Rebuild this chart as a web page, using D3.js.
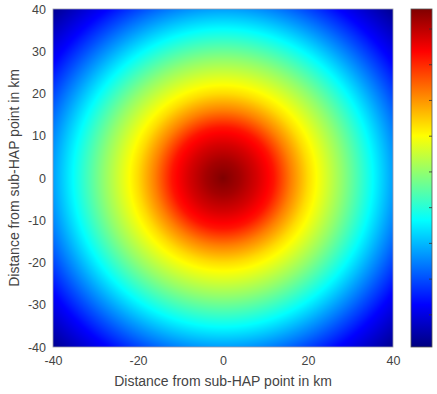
<!DOCTYPE html>
<html>
<head>
<meta charset="utf-8">
<script src="https://cdn.jsdelivr.net/npm/d3@7/dist/d3.min.js"></script>
<style>
  body { margin: 0; background: #fff; }
  text { font-family: Arial, "Liberation Sans", sans-serif; fill: #444; }
</style>
</head>
<body>
<div id="chart"></div>
<script>
// radial profile of the field (radius in km -> value)
const profileRadius = [0, 4, 8, 12, 16, 20, 24, 28, 32, 36, 40, 44, 48, 52, 56.6];
const profileValue = [0.56, 0.23, -0.24, -0.80, -1.80, -2.66, -3.32, -4.0, -4.74, -5.49, -6.25, -6.98, -7.67, -8.19, -8.76];

const xTicks = [-40, -20, 0, 20, 40];
const yTicks = [40, 30, 20, 10, 0, -10, -20, -30, -40];
const barTicks = [0, -1, -2, -3, -4, -5, -6, -7, -8];
const valueDomain = [-8.9, 0.56];

const jetStops = [0, 0.125, 0.375, 0.625, 0.875, 1];
const jetColors = ["#000080", "#0000ff", "#00ffff", "#ffff00", "#ff0000", "#800000"];

const W = 437, H = 394;
const plot = { left: 53, top: 9, right: 393, bottom: 347 };
const bar = { left: 411, right: 432 };

const svg = d3.select("#chart").append("svg").attr("width", W).attr("height", H);

const x = d3.scaleLinear().domain([-40, 40]).range([plot.left, plot.right]);
const y = d3.scaleLinear().domain([-40, 40]).range([plot.bottom, plot.top]);
const profile = d3.scaleLinear().domain(profileRadius).range(profileValue).clamp(true);
const norm = d3.scaleLinear().domain(valueDomain).range([0, 1]).clamp(true);
const jet = d3.scaleLinear().domain(jetStops).range(jetColors).interpolate(d3.interpolateRgb);

// heatmap drawn per pixel into a canvas, then placed in the svg
const pw = plot.right - plot.left, ph = plot.bottom - plot.top;
const canvas = document.createElement("canvas");
canvas.width = pw; canvas.height = ph;
const ctx = canvas.getContext("2d");
const img = ctx.createImageData(pw, ph);
for (let j = 0; j < ph; j++) {
  const yk = y.invert(plot.top + j + 0.5);
  for (let i = 0; i < pw; i++) {
    const xk = x.invert(plot.left + i + 0.5);
    const c = d3.rgb(jet(norm(profile(Math.hypot(xk, yk)))));
    const k = (j * pw + i) * 4;
    img.data[k] = c.r; img.data[k + 1] = c.g; img.data[k + 2] = c.b; img.data[k + 3] = 255;
  }
}
ctx.putImageData(img, 0, 0);
svg.append("image")
  .attr("x", plot.left).attr("y", plot.top)
  .attr("width", pw).attr("height", ph)
  .attr("href", canvas.toDataURL());

svg.append("rect")
  .attr("x", plot.left).attr("y", plot.top)
  .attr("width", pw).attr("height", ph)
  .attr("fill", "none").attr("stroke", "#9a9aaa").attr("stroke-width", 0.8);

// axes (plain hyphen for negatives, like the original)
const fmt = d => String(d);
const xAxis = svg.append("g").attr("transform", `translate(0,${plot.bottom})`)
  .call(d3.axisBottom(x).tickValues(xTicks).tickFormat(fmt).tickSize(0).tickPadding(9));
const yAxis = svg.append("g").attr("transform", `translate(${plot.left},0)`)
  .call(d3.axisLeft(y).tickValues(yTicks).tickFormat(fmt).tickSize(0).tickPadding(7));
[xAxis, yAxis].forEach(g => {
  g.select(".domain").remove();
  g.selectAll("text").style("font-size", "12.5px").attr("fill", "#444");
});

svg.append("text")
  .attr("x", (plot.left + plot.right) / 2).attr("y", 386)
  .attr("text-anchor", "middle").style("font-size", "14px")
  .text("Distance from sub-HAP point in km");
svg.append("text")
  .attr("transform", `translate(19,${(plot.top + plot.bottom) / 2}) rotate(-90)`)
  .attr("text-anchor", "middle").style("font-size", "14px")
  .text("Distance from sub-HAP point in km");

// colorbar
const yBar = d3.scaleLinear().domain(valueDomain).range([plot.bottom, plot.top]);
const grad = svg.append("defs").append("linearGradient")
  .attr("id", "jetgrad").attr("x1", 0).attr("y1", 1).attr("x2", 0).attr("y2", 0);
grad.selectAll("stop").data(jetStops).join("stop")
  .attr("offset", d => d).attr("stop-color", (d, i) => jetColors[i]);
svg.append("rect")
  .attr("x", bar.left).attr("y", plot.top)
  .attr("width", bar.right - bar.left).attr("height", ph)
  .attr("fill", "url(#jetgrad)").attr("stroke", "#555").attr("stroke-width", 0.8);
svg.append("g").selectAll("line").data(barTicks).join("line")
  .attr("x1", bar.right - 3).attr("x2", bar.right)
  .attr("y1", d => yBar(d)).attr("y2", d => yBar(d))
  .attr("stroke", "#333").attr("stroke-width", 0.8);
</script>
</body>
</html>
